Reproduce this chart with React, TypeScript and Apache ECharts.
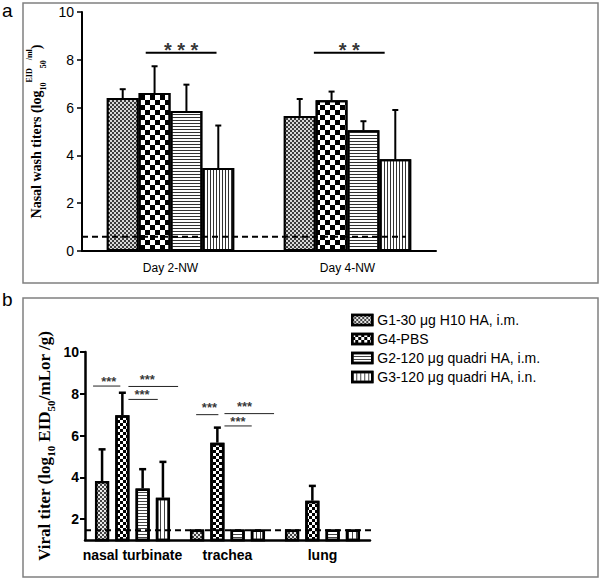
import React, { useEffect, useRef } from 'react';
import * as echarts from 'echarts';

// ---------- shared ----------
const GROUPS = ['G1-30 μg H10 HA, i.m.', 'G4-PBS', 'G2-120 μg quadri HA, i.m.', 'G3-120 μg quadri HA, i.n.'];

// ---------- panel a ----------
const A_CATEGORIES = ['Day 2-NW', 'Day 4-NW'];
const A_G1 = [6.40, 5.65];
const A_G4 = [6.61, 6.31];
const A_G2 = [5.86, 5.05];
const A_G3 = [3.47, 3.84];
const A_G1_UPPER = [6.77, 6.36];
const A_G4_UPPER = [7.73, 6.67];
const A_G2_UPPER = [6.96, 5.43];
const A_G3_UPPER = [5.25, 5.90];
const A_Y_TICKS = [0, 2, 4, 6, 8, 10];
const A_LIMIT = 0.6;
const A_LIMIT_RANGE = [-0.5, 1.33];
const A_SIG_TEXT = ['* * *', '* *'];
const A_SIG_FROM = [-0.14, 0.81];
const A_SIG_TO = [0.26, 1.21];
const A_SIG_LINE_Y = [8.3, 8.3];
const A_SIG_TEXT_X = [0.06, 1.01];
const A_SIG_TEXT_Y = [8.42, 8.42];

// ---------- panel b ----------
const B_CATEGORIES = ['nasal turbinate', 'trachea', 'lung'];
const B_G1 = [3.82, 1.5, 1.5];
const B_G4 = [6.97, 5.66, 2.88];
const B_G2 = [3.47, 1.5, 1.5];
const B_G3 = [3.02, 1.5, 1.5];
const B_G1_UPPER = [5.34, null, null];
const B_G4_UPPER = [8.05, 6.38, 3.59];
const B_G2_UPPER = [4.39, null, null];
const B_G3_UPPER = [4.74, null, null];
const B_Y_TICKS = [2, 4, 6, 8, 10];
const B_LIMIT = 1.47;
const B_LIMIT_RANGE = [-0.5, 2.63];
const B_SIG_TEXT = ['***', '***', '***', '***', '***', '***'];
const B_SIG_FROM = [-0.415, -0.043, -0.043, 0.67, 0.968, 0.968];
const B_SIG_TO = [-0.128, 0.48, 0.266, 0.904, 1.49, 1.255];
const B_SIG_LINE_Y = [8.37, 8.35, 7.73, 7.0, 7.05, 6.46];
const B_SIG_TEXT_X = [-0.25, 0.156, 0.10, 0.81, 1.18, 1.11];
const B_SIG_TEXT_Y = [8.58, 8.66, 7.97, 7.36, 7.40, 6.68];

const SANS = 'Liberation Sans, Arial, sans-serif';
const SERIF = 'Liberation Serif, Times New Roman, serif';

function barOffsets(n: number, catGap: number, gap: number) {
  const usable = 1 - catGap;
  const w = usable / (n + (n - 1) * gap);
  return Array.from({ length: n }, (_, i) => -usable / 2 + w / 2 + i * w * (1 + gap));
}

function checker(s: number, color: string) {
  return {
    symbol: 'rect', symbolSize: 1, color,
    dashArrayX: [[s, s], [0, s, s, 0]], dashArrayY: [s, 0],
  };
}
function hStripes(line: number, gapPx: number, color: string) {
  return { symbol: 'rect', symbolSize: 1, color, dashArrayX: [1, 0], dashArrayY: [line, gapPx] };
}
function vStripes(line: number, gapPx: number, color: string) {
  return { symbol: 'rect', symbolSize: 1, color, dashArrayX: [line, gapPx], dashArrayY: [1, 0] };
}

const FILLS_A = ['#3c3c3c', '#ffffff', '#ffffff', '#ffffff'];
const DECALS_A = [
  checker(2, '#d8d8d8'),
  checker(5, '#000000'),
  hStripes(1, 2, '#333333'),
  vStripes(1, 2, '#333333'),
];
const FILLS_B = ['#444444', '#ffffff', '#ffffff', '#ffffff'];
const DECALS_B = [
  checker(2, '#e8e8e8'),
  checker(3, '#000000'),
  hStripes(1, 2, '#444444'),
  vStripes(1, 3, '#444444'),
];

function errorSeries(xIdx: number, yIdx: number, means: number[][], uppers: (number | null)[][], offsets: number[], width: number, cap: number) {
  const data: number[][] = [];
  means.forEach((arr, g) => {
    arr.forEach((m, c) => {
      const u = uppers[g][c];
      if (u != null) data.push([c + offsets[g], m, u]);
    });
  });
  return {
    type: 'custom', xAxisIndex: xIdx, yAxisIndex: yIdx, z: 1, silent: true,
    encode: { x: 0, y: [1, 2] },
    data,
    renderItem: (_p: any, api: any) => {
      const x = api.value(0), m = api.value(1), t = api.value(2);
      const p0 = api.coord([x, m]);
      const p1 = api.coord([x, t]);
      return {
        type: 'group',
        children: [
          { type: 'line', shape: { x1: p0[0], y1: p0[1], x2: p1[0], y2: p1[1] }, style: { stroke: '#000', lineWidth: width } },
          { type: 'line', shape: { x1: p1[0] - cap, y1: p1[1], x2: p1[0] + cap, y2: p1[1] }, style: { stroke: '#000', lineWidth: width } },
        ],
      };
    },
  };
}

function sigSeries(xIdx: number, yIdx: number, from: number[], to: number[], ly: number[], width: number, color: string) {
  return from.map((f, i) => ({
    type: 'line', xAxisIndex: xIdx, yAxisIndex: yIdx, symbol: 'none', silent: true, z: 6,
    data: [[f, ly[i]], [to[i], ly[i]]],
    lineStyle: { color, width },
  }));
}

function sigText(xIdx: number, yIdx: number, texts: string[], tx: number[], ty: number[], fontSize: number) {
  return {
    type: 'scatter', xAxisIndex: xIdx, yAxisIndex: yIdx, symbolSize: 1, silent: true, z: 7,
    itemStyle: { color: 'rgba(0,0,0,0)' },
    data: texts.map((t, i) => ({ name: t, value: [tx[i], ty[i]] })),
    label: {
      show: true, position: 'inside', formatter: (p: any) => p.name,
      fontSize, fontWeight: 'bold', fontFamily: SANS, color: '#000', lineHeight: fontSize - 1,
    },
  };
}

function App() {
  const ref = useRef<HTMLDivElement>(null);
  useEffect(() => {
    document.body.style.margin = '0';
    if (!ref.current) return;
    const chart = echarts.init(ref.current, null, { renderer: 'svg' });

    const A_VALUES = [A_G1, A_G4, A_G2, A_G3];
    const A_UPPERS = [A_G1_UPPER, A_G4_UPPER, A_G2_UPPER, A_G3_UPPER];
    const B_VALUES = [B_G1, B_G4, B_G2, B_G3];
    const B_UPPERS = [B_G1_UPPER, B_G4_UPPER, B_G2_UPPER, B_G3_UPPER];

    const A_CAT_GAP = 0.28, A_GAP = 0;
    const B_CAT_GAP = 0.21, B_GAP = 0.43;
    const offA = barOffsets(4, A_CAT_GAP, A_GAP);
    const offB = barOffsets(4, B_CAT_GAP, B_GAP);

    const barsA = A_VALUES.map((vals, i) => ({
      type: 'bar', name: 'a ' + GROUPS[i], xAxisIndex: 0, yAxisIndex: 0, z: 2,
      data: vals, barGap: A_GAP * 100 + '%', barCategoryGap: A_CAT_GAP * 100 + '%',
      itemStyle: { color: FILLS_A[i], borderColor: '#000', borderWidth: 2, decal: DECALS_A[i] },
    }));
    const barsB = B_VALUES.map((vals, i) => ({
      type: 'bar', name: GROUPS[i], xAxisIndex: 2, yAxisIndex: 1, z: 2,
      data: vals, barGap: B_GAP * 100 + '%', barCategoryGap: B_CAT_GAP * 100 + '%',
      itemStyle: { color: FILLS_B[i], borderColor: '#000', borderWidth: 2.5, decal: DECALS_B[i] },
    }));

    const nameRich = (size: number, subSize: number, lh: number) => ({
      n: { fontSize: size, fontWeight: 'bold', fontFamily: SERIF, color: '#000', lineHeight: lh },
      sub: { fontSize: subSize, fontWeight: 'bold', fontFamily: SERIF, color: '#000', verticalAlign: 'bottom', lineHeight: subSize + 2 },
      sup: { fontSize: subSize, fontWeight: 'bold', fontFamily: SERIF, color: '#000', verticalAlign: 'top', lineHeight: subSize + 2 },
    });

    const option: any = {
      animation: false,
      backgroundColor: '#fff',
      grid: [
        { left: 82, top: 12, width: 354, height: 239 },
        { left: 85, top: 352, width: 285, height: 188 },
      ],
      legend: {
        data: GROUPS.map((g, i) => ({
          name: g,
          itemStyle: { color: FILLS_B[i], borderColor: '#000', borderWidth: 2.5, decal: DECALS_B[i] },
        })),
        orient: 'vertical', left: 346, top: 308,
        itemWidth: 20, itemHeight: 10, itemGap: 5, icon: 'rect', selectedMode: false,
        textStyle: { fontFamily: SANS, fontSize: 14, color: '#000', lineHeight: 14 },
      },
      xAxis: [
        {
          type: 'category', gridIndex: 0, data: A_CATEGORIES,
          axisLine: { onZero: false, lineStyle: { color: '#000', width: 2 } },
          axisTick: { show: false },
          axisLabel: { interval: 0, fontFamily: SANS, fontSize: 12, color: '#000', margin: 11 },
        },
        { type: 'value', gridIndex: 0, min: -0.5, max: 1.5, show: false, axisLine: { onZero: false } },
        {
          type: 'category', gridIndex: 1, data: B_CATEGORIES,
          axisLine: { onZero: false, lineStyle: { color: '#000', width: 2.5 } },
          axisTick: { alignWithLabel: true, length: 5, lineStyle: { color: '#000', width: 2 } },
          axisLabel: { interval: 0, fontFamily: SANS, fontSize: 14, fontWeight: 'bold', color: '#000', margin: 8 },
        },
        { type: 'value', gridIndex: 1, min: -0.5, max: 2.5, show: false, axisLine: { onZero: false } },
      ],
      yAxis: [
        {
          type: 'value', gridIndex: 0, min: A_Y_TICKS[0], max: A_Y_TICKS[A_Y_TICKS.length - 1], interval: 2,
          axisLine: { show: true, onZero: false, lineStyle: { color: '#000', width: 2 } },
          axisTick: { show: true, length: 5, lineStyle: { color: '#000', width: 1.5 } },
          splitLine: { show: false },
          axisLabel: { fontFamily: SANS, fontSize: 14, color: '#000', margin: 8 },
          name: '{n|Nasal wash titers (log}{sub|10}{sup|EID}{sub|50}{sup|/ml}{n|)}',
          nameLocation: 'middle', nameGap: 22,
          nameTextStyle: { rich: nameRich(14, 8, 22) },
        },
        {
          type: 'value', gridIndex: 1, min: 1, max: 10,
          axisLine: { show: true, onZero: false, lineStyle: { color: '#000', width: 2.5 } },
          axisTick: { show: true, length: 5, lineStyle: { color: '#000', width: 2 }, customValues: B_Y_TICKS },
          splitLine: { show: false },
          axisLabel: { fontFamily: SANS, fontSize: 14, fontWeight: 'bold', color: '#000', margin: 6, customValues: B_Y_TICKS },
          name: '{n|Viral titer (log}{sub|10}{n| EID}{sub|50}{n|/mLor /g)}',
          nameLocation: 'middle', nameGap: 29,
          nameTextStyle: { rich: nameRich(17, 11, 24) },
        },
      ],
      graphic: [
        { type: 'rect', shape: { x: 23, y: 3, width: 575, height: 280 }, style: { fill: 'none', stroke: '#808080', lineWidth: 1.5 }, silent: true },
        { type: 'rect', shape: { x: 23, y: 298, width: 575, height: 279 }, style: { fill: 'none', stroke: '#808080', lineWidth: 1.5 }, silent: true },
        { type: 'text', x: 2, y: 1, style: { text: 'a', fontSize: 19, fontFamily: SANS, fill: '#000', verticalAlign: 'top' } },
        { type: 'text', x: 2, y: 290, style: { text: 'b', fontSize: 19, fontFamily: SANS, fill: '#000', verticalAlign: 'top' } },
      ],
      series: [
        errorSeries(1, 0, A_VALUES, A_UPPERS, offA, 2, 3),
        ...barsA,
        {
          type: 'line', xAxisIndex: 1, yAxisIndex: 0, symbol: 'none', silent: true, z: 5,
          data: [[A_LIMIT_RANGE[0], A_LIMIT], [A_LIMIT_RANGE[1], A_LIMIT]],
          lineStyle: { color: '#000', width: 2, type: [6, 4] },
        },
        ...sigSeries(1, 0, A_SIG_FROM, A_SIG_TO, A_SIG_LINE_Y, 2, '#000'),
        sigText(1, 0, A_SIG_TEXT, A_SIG_TEXT_X, A_SIG_TEXT_Y, 20),

        errorSeries(3, 1, B_VALUES, B_UPPERS, offB, 2.5, 3.5),
        ...barsB,
        {
          type: 'line', xAxisIndex: 3, yAxisIndex: 1, symbol: 'none', silent: true, z: 5, clip: false,
          data: [[B_LIMIT_RANGE[0], B_LIMIT], [B_LIMIT_RANGE[1], B_LIMIT]],
          lineStyle: { color: '#000', width: 2, type: [6, 4] },
        },
        ...sigSeries(3, 1, B_SIG_FROM, B_SIG_TO, B_SIG_LINE_Y, 1, '#222'),
        sigText(3, 1, B_SIG_TEXT, B_SIG_TEXT_X, B_SIG_TEXT_Y, 13),
      ],
    };
    chart.setOption(option);
    return () => chart.dispose();
  }, []);
  return <div ref={ref} style={{ width: 600, height: 580 }} />;
}

export default App;
